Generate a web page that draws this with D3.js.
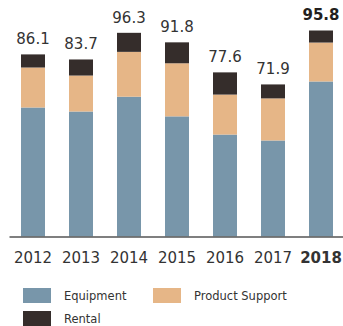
<!DOCTYPE html>
<html>
<head>
<meta charset="utf-8">
<script src="https://cdn.jsdelivr.net/npm/d3@7"></script>
<style>
  body { margin: 0; background: #fff; }
  svg { display: block; font-family: "DejaVu Sans", sans-serif; }
</style>
</head>
<body>
<svg id="chart"></svg>
<script>
const width = 343, height = 326;

// data
const years = ["2012", "2013", "2014", "2015", "2016", "2017", "2018"];
const equipment = [61.0, 59.1, 66.1, 56.8, 48.2, 45.4, 73.3];
const productSupport = [18.9, 17.0, 21.2, 25.1, 18.9, 19.9, 18.4];
const rental = [6.2, 7.6, 9.0, 9.9, 10.5, 6.6, 5.7];
const totals = ["86.1", "83.7", "96.3", "91.8", "77.6", "71.9", "95.8"];
const seriesNames = ["Equipment", "Product Support", "Rental"];
const colors = ["#7896aa", "#e6b687", "#352d2b"];
const highlight = "2018";

const svg = d3.select("#chart").attr("width", width).attr("height", height);

const rows = years.map((y, i) => ({
  year: y,
  Equipment: equipment[i],
  "Product Support": productSupport[i],
  Rental: rental[i],
  total: totals[i]
}));

const stack = d3.stack().keys(seriesNames);
const layers = stack(rows);

const x = d3.scaleBand().domain(years).range([9, 345]).paddingInner(0.5).paddingOuter(0.25);
const y = d3.scaleLinear().domain([0, 100]).range([236.5, 25]);
const color = d3.scaleOrdinal().domain(seriesNames).range(colors);

// bars
svg.append("g")
  .selectAll("g")
  .data(layers)
  .join("g")
  .attr("fill", d => color(d.key))
  .selectAll("rect")
  .data(d => d)
  .join("rect")
  .attr("x", d => x(d.data.year))
  .attr("y", d => y(d[1]))
  .attr("width", x.bandwidth())
  .attr("height", d => y(d[0]) - y(d[1]));

// total labels
const topLayer = layers[layers.length - 1];
svg.append("g")
  .selectAll("text")
  .data(topLayer)
  .join("text")
  .attr("x", d => x(d.data.year) + x.bandwidth() / 2)
  .attr("y", d => y(d[1]) - 10)
  .attr("text-anchor", "middle")
  .style("font-size", "15px")
  .style("font-weight", d => d.data.year === highlight ? "bold" : "normal")
  .style("fill", d => d.data.year === highlight ? "#231f20" : "#333")
  .text(d => d.data.total);

// x axis
const xAxis = svg.append("g")
  .attr("transform", `translate(0,${y(0)})`)
  .call(d3.axisBottom(x).tickSize(0).tickPadding(0));
xAxis.select(".domain").attr("stroke", "#555").attr("stroke-width", 1.3);
xAxis.selectAll("text")
  .attr("dy", null)
  .attr("y", 26.5)
  .style("font-family", "DejaVu Sans, sans-serif")
  .style("font-size", "15px")
  .style("fill", "#333")
  .style("font-weight", d => d === highlight ? "bold" : "normal");

// legend
const legendPos = [[23, 288], [153, 288], [23, 311]];
const legend = svg.append("g")
  .selectAll("g")
  .data(seriesNames)
  .join("g")
  .attr("transform", (d, i) => `translate(${legendPos[i][0]},${legendPos[i][1]})`);
legend.append("rect")
  .attr("width", 28)
  .attr("height", 15)
  .attr("fill", d => color(d));
legend.append("text")
  .attr("x", 41)
  .attr("y", 12)
  .style("font-size", "11.5px")
  .style("fill", "#333")
  .text(d => d);
</script>
</body>
</html>
